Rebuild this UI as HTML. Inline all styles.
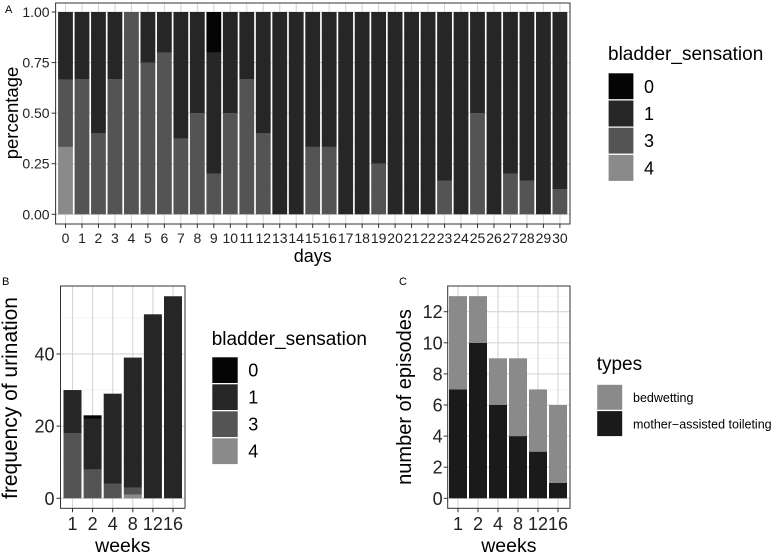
<!DOCTYPE html>
<html><head><meta charset="utf-8"><style>
html,body{margin:0;padding:0;background:#fff;}
svg{display:block;font-family:"Liberation Sans",Arial,sans-serif;}
</style></head><body>
<svg id="fig" width="777" height="555" viewBox="0 0 777 555" xmlns="http://www.w3.org/2000/svg"></svg>
<script>
// Panel A data: share per day for each bladder_sensation level
const daysA = [0,1,2,3,4,5,6,7,8,9,10,11,12,13,14,15,16,17,18,19,20,21,22,23,24,25,26,27,28,29,30];
const shareA4 = [0.333,0,0,0,0,0,0,0,0,0,0,0,0,0,0,0,0,0,0,0,0,0,0,0,0,0,0,0,0,0,0];
const shareA3 = [0.333,0.667,0.4,0.667,1,0.75,0.8,0.375,0.5,0.2,0.5,0.667,0.4,0,0,0.333,0.333,0,0,0.25,0,0,0,0.167,0,0.5,0,0.2,0.167,0,0.125];
const shareA0 = [0,0,0,0,0,0,0,0,0,0.2,0,0,0,0,0,0,0,0,0,0,0,0,0,0,0,0,0,0,0,0,0];
const ticksA = [0,0.25,0.5,0.75,1];
const tickLabelsA = ["0.00","0.25","0.50","0.75","1.00"];
// Panel B data: counts per week
const weeksB = ["1","2","4","8","12","16"];
const countB4 = [0,0,0,1,0,0];
const countB3 = [18,8,4,2,0,0];
const countB1 = [12,14,25,36,51,56];
const countB0 = [0,1,0,0,0,0];
const ticksB = [0,20,40];
// Panel C data
const weeksC = ["1","2","4","8","12","16"];
const mother = [7,10,6,4,3,1];
const bedwet = [6,3,3,5,4,5];
const ticksC = [0,2,4,6,8,10,12];

const levels = ["0","1","3","4"];
const colA = {"0":"#050505","1":"#262626","3":"#545454","4":"#8a8a8a"};
const NS = "http://www.w3.org/2000/svg";
const svg = document.getElementById('fig');
function mk(tag, attrs, parent){const e=document.createElementNS(NS,tag);for(const k in attrs)e.setAttribute(k,attrs[k]);(parent||svg).appendChild(e);return e;}
function txt(s, attrs, parent){const e=mk('text',attrs,parent);e.textContent=s;return e;}

function panel(name, L,R,T,B, y0px, ypx, xs, xcenter, yMajor, yMinor, label){
  const g=mk('g',{});
  
  
  mk('rect',{x:L,y:T,width:R-L,height:B-T,fill:'#fff'},g);
  yMinor.forEach(v=>mk('line',{x1:L,x2:R,y1:ypx(v),y2:ypx(v),stroke:'#f0f0f0','stroke-width':0.6},g));
  yMajor.forEach(v=>mk('line',{x1:L,x2:R,y1:ypx(v),y2:ypx(v),stroke:'#d6d6d6','stroke-width':1.1},g));
  xs.forEach((c,i)=>mk('line',{x1:xcenter(i),x2:xcenter(i),y1:T,y2:B,stroke:'#d6d6d6','stroke-width':1.1},g));
  return g;
}
function frame(g,L,R,T,B){mk('rect',{x:L,y:T,width:R-L,height:B-T,fill:'none',stroke:'#333','stroke-width':1},g);}

// ---------- Panel A ----------
{
const L=55.6,R=570,T=3,B=224;
const xA=i=>65.5+i*16.48, yA=v=>214.3-v*202.3, bw=14.8;
const g=panel('panel-a',L,R,T,B,0,yA,daysA,xA,ticksA,[0.125,0.375,0.625,0.875]);
daysA.forEach((d,i)=>{
  const segs=[["4",shareA4[i]],["3",shareA3[i]],["1",1-shareA4[i]-shareA3[i]-shareA0[i]],["0",shareA0[i]]];
  let acc=0;
  segs.forEach(([lv,v])=>{ if(v<=0) return;
    const r=mk('rect',{x:xA(i)-bw/2,y:yA(acc+v),width:bw,height:yA(acc)-yA(acc+v),fill:colA[lv]},g);
    
    
    acc+=v;});
});
frame(g,L,R,T,B);
ticksA.forEach((v,i)=>{mk('line',{x1:L-4,x2:L,y1:yA(v),y2:yA(v),stroke:'#333'});
  const t=txt(tickLabelsA[i],{x:L-6,y:yA(v)+5,'font-size':14,'text-anchor':'end',fill:'#222'});
   });
daysA.forEach((d,i)=>{mk('line',{x1:xA(i),x2:xA(i),y1:B,y2:B+4,stroke:'#333'});
  const t=txt(String(d),{x:xA(i),y:243,'font-size':14,'text-anchor':'middle',fill:'#222'});
   });
let t=txt('days',{x:(L+R)/2,y:262,'font-size':18,'text-anchor':'middle',fill:'#000'});
 
t=txt('percentage',{x:0,y:0,'font-size':18.5,'text-anchor':'middle',transform:'translate(18,113) rotate(-90)',fill:'#000'});
 
t=txt('A',{x:5,y:13,'font-size':11,fill:'#000'});
 
}
function legendBS(name,x,ty,ky,kw,kh){
  const g=mk('g',{});
  
  
  txt('bladder_sensation',{x:x,y:ty,'font-size':19,fill:'#000'},g);
  levels.forEach((lv,i)=>{
    const r=mk('rect',{x:x,y:ky+i*kh,width:kw,height:kh,fill:colA[lv],stroke:'#fff','stroke-width':1.2},g);
    
    
    txt(lv,{x:x+kw+10,y:ky+i*kh+kh/2+6.5,'font-size':18,fill:'#000'},g);
  });
}
legendBS('legend-a',608,60,72.7,26,27.2);

// ---------- Panel B ----------
{
const L=60.5,R=185,T=286,B=508.3;
const xB=i=>72.5+i*20.1, yB=v=>498.3-v*3.608, bw=18;
const g=panel('panel-b',L,R,T,B,0,yB,weeksB,xB,ticksB,[10,30,50]);
weeksB.forEach((w,i)=>{
  const segs=[["4",countB4[i]],["3",countB3[i]],["1",countB1[i]],["0",countB0[i]]];
  let acc=0;
  segs.forEach(([lv,v])=>{ if(v<=0) return;
    const r=mk('rect',{x:xB(i)-bw/2,y:yB(acc+v),width:bw,height:yB(acc)-yB(acc+v),fill:colA[lv]},g);
    
    
    acc+=v;});
});
frame(g,L,R,T,B);
ticksB.forEach(v=>{mk('line',{x1:L-4,x2:L,y1:yB(v),y2:yB(v),stroke:'#333'});
  const t=txt(String(v),{x:L-6,y:yB(v)+6.5,'font-size':18,'text-anchor':'end',fill:'#222'});
   });
weeksB.forEach((w,i)=>{mk('line',{x1:xB(i),x2:xB(i),y1:B,y2:B+4,stroke:'#333'});
  const t=txt(w,{x:xB(i),y:530,'font-size':18,'text-anchor':'middle',fill:'#222'});
   });
let t=txt('weeks',{x:(L+R)/2,y:552,'font-size':19.5,'text-anchor':'middle',fill:'#000'});
 
t=txt('frequency of urination',{x:0,y:0,'font-size':21,'text-anchor':'middle',transform:'translate(17,398) rotate(-90)',fill:'#000'});
 
t=txt('B',{x:2,y:285,'font-size':11,fill:'#000'});
 
}
legendBS('legend-b',211.7,345,356.7,26.6,27);

// ---------- Panel C ----------
{
const L=447.7,R=570,T=286,B=508.3;
const xC=i=>458+i*20, yC=v=>498.3-v*15.55, bw=18;
const g=panel('panel-c',L,R,T,B,0,yC,weeksC,xC,ticksC,[1,3,5,7,9,11,13]);
weeksC.forEach((w,i)=>{
  let r=mk('rect',{x:xC(i)-bw/2,y:yC(mother[i]),width:bw,height:yC(0)-yC(mother[i]),fill:'#1a1a1a'},g);
  
  
  r=mk('rect',{x:xC(i)-bw/2,y:yC(mother[i]+bedwet[i]),width:bw,height:yC(mother[i])-yC(mother[i]+bedwet[i]),fill:'#8a8a8a'},g);
  
  
});
frame(g,L,R,T,B);
ticksC.forEach(v=>{mk('line',{x1:L-4,x2:L,y1:yC(v),y2:yC(v),stroke:'#333'});
  const t=txt(String(v),{x:L-5,y:yC(v)+6.5,'font-size':18,'text-anchor':'end',fill:'#222'});
   });
weeksC.forEach((w,i)=>{mk('line',{x1:xC(i),x2:xC(i),y1:B,y2:B+4,stroke:'#333'});
  const t=txt(w,{x:xC(i),y:530,'font-size':18,'text-anchor':'middle',fill:'#222'});
   });
let t=txt('weeks',{x:(L+R)/2,y:552,'font-size':19.5,'text-anchor':'middle',fill:'#000'});
 
t=txt('number of episodes',{x:0,y:0,'font-size':20,'text-anchor':'middle',transform:'translate(411,397) rotate(-90)',fill:'#000'});
 
t=txt('C',{x:399,y:285,'font-size':11,fill:'#000'});
 
const lg=mk('g',{});


txt('types',{x:596.7,y:370,'font-size':19,fill:'#000'},lg);
let k=mk('rect',{x:596.7,y:384.3,width:26,height:26,fill:'#8a8a8a',stroke:'#fff'},lg);
 
txt('bedwetting',{x:633,y:402,'font-size':12.5,fill:'#000'},lg);
k=mk('rect',{x:596.7,y:410.6,width:26,height:26,fill:'#1a1a1a',stroke:'#fff'},lg);
 
txt('mother\u2212assisted toileting',{x:633,y:428.5,'font-size':12.5,fill:'#000'},lg);
}
</script>
</body></html>
